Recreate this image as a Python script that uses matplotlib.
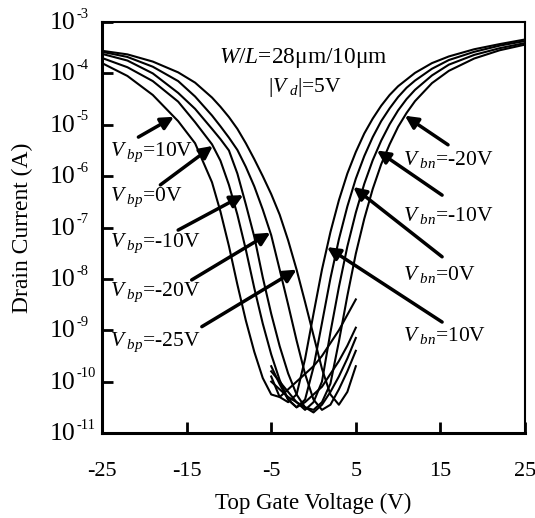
import numpy as np
import matplotlib
matplotlib.use("Agg")
import matplotlib.pyplot as plt

plt.rcParams['font.family'] = ['Liberation Serif', 'DejaVu Serif']
plt.rcParams['mathtext.fontset'] = 'custom'
plt.rcParams['mathtext.rm'] = 'Liberation Serif'
plt.rcParams['mathtext.it'] = 'Liberation Serif:italic'
plt.rcParams['mathtext.bf'] = 'Liberation Serif:bold'

# p-branch sweeps (gate -25 V -> 5 V), log10 of drain current
vg_p = [-25, -22, -19, -16, -14, -12, -11, -10, -9, -8, -7, -6, -5, -4, -3, -2, -1, 0, 1, 2, 3, 4, 5]
logid_bp_p10 = [-3.80, -4.05, -4.42, -4.93, -5.36, -6.12, -6.69, -7.36, -8.11, -8.81, -9.42, -9.93,
                -10.25, -10.30, -10.15, -10.00, -9.85, -9.70, -9.50, -9.25, -9.00, -8.70, -8.40]
logid_bp_0 = [-3.70, -3.88, -4.15, -4.55, -4.95, -5.38, -5.70, -6.17, -6.75, -7.43, -8.18, -8.87,
              -9.47, -9.97, -10.35, -10.50, -10.40, -10.25, -10.10, -9.85, -9.60, -9.30, -8.95]
logid_bp_m10 = [-3.62, -3.75, -4.00, -4.38, -4.69, -5.08, -5.28, -5.50, -5.95, -6.55, -7.18, -7.97,
                -8.68, -9.31, -9.84, -10.25, -10.50, -10.60, -10.45, -10.20, -9.90, -9.55, -9.15]
logid_bp_m20 = [-3.58, -3.68, -3.87, -4.15, -4.45, -4.82, -5.03, -5.25, -5.49, -5.82, -6.20, -6.65,
                -7.15, -7.82, -8.50, -9.20, -9.85, -10.35, -10.55, -10.45, -10.15, -9.80, -9.40]
logid_bp_m25 = [-3.56, -3.63, -3.77, -3.98, -4.18, -4.47, -4.65, -4.85, -5.08, -5.36, -5.67, -6.00,
                -6.35, -6.75, -7.25, -7.82, -8.45, -9.10, -9.75, -10.25, -10.45, -10.20, -9.70]

# n-branch sweeps (gate -5 V -> 25 V)
vg_n = [-5, -4, -3, -2, -1, 0, 1, 2, 3, 4, 5, 6, 7, 8, 9, 10, 11, 12, 14, 16, 19, 22, 25]
logid_bn_p10 = [-9.90, -10.30, -10.40, -10.25, -9.56, -8.68, -7.82, -7.09, -6.47, -5.95, -5.53, -5.17,
                -4.88, -4.63, -4.42, -4.25, -4.12, -3.99, -3.80, -3.67, -3.53, -3.43, -3.34]
logid_bn_0 = [-9.70, -10.05, -10.35, -10.50, -10.35, -9.72, -8.86, -7.99, -7.23, -6.59, -6.05, -5.61,
              -5.24, -4.93, -4.68, -4.46, -4.28, -4.14, -3.91, -3.74, -3.58, -3.46, -3.37]
logid_bn_m10 = [-9.80, -10.00, -10.20, -10.40, -10.55, -10.40, -10.00, -9.04, -8.16, -7.37, -6.71, -6.15,
                -5.69, -5.31, -4.99, -4.72, -4.50, -4.32, -4.04, -3.83, -3.64, -3.51, -3.41]
logid_bn_m20 = [-10.00, -10.15, -10.30, -10.40, -10.50, -10.55, -10.40, -10.04, -9.22, -8.33, -7.51, -6.83,
                -6.25, -5.77, -5.38, -5.04, -4.77, -4.54, -4.19, -3.95, -3.71, -3.55, -3.44]

x_ticks = [-25, -15, -5, 5, 15, 25]
y_exponents = [-11, -10, -9, -8, -7, -6, -5, -4, -3]

p_curves = [("10V", logid_bp_p10), ("0V", logid_bp_0), ("-10V", logid_bp_m10),
            ("-20V", logid_bp_m20), ("-25V", logid_bp_m25)]
n_curves = [("-20V", logid_bn_m20), ("-10V", logid_bn_m10), ("0V", logid_bn_0), ("10V", logid_bn_p10)]

# gate voltage where each arrow touches its curve
p_arrow_v = [-16.5, -11.9, -8.3, -5.1, -2.0]
n_arrow_v = [10.8, 7.5, 4.7, 1.6]

fig = plt.figure(figsize=(5.35, 5.18), dpi=100)
ax = fig.add_axes([0.1907, 0.1641, 0.7906, 0.7934])

for _, ld in p_curves:
    ax.plot(vg_p, 10.0 ** np.array(ld), color='black', lw=1.5, solid_joinstyle='round')
for _, ld in n_curves:
    ax.plot(vg_n, 10.0 ** np.array(ld), color='black', lw=1.5, solid_joinstyle='round')

ax.set_yscale('log')
ax.set_xlim(-25, 25)
ax.set_ylim(1e-11, 1e-3)
ax.set_xticks(x_ticks)
ax.set_xticklabels([str(t) for t in x_ticks])
ax.set_yticks([10.0 ** e for e in y_exponents])
ax.minorticks_off()
ax.tick_params(axis='both', direction='in', length=8, width=2)
ax.tick_params(axis='x', pad=21, labelsize=16)
ax.tick_params(axis='y', labelleft=False)
for side in ['left', 'bottom']:
    ax.spines[side].set_linewidth(2.2)
for side in ['right', 'top']:
    ax.spines[side].set_linewidth(1.5)

# decade labels: large "10" with a small exponent, left-aligned
for e in y_exponents:
    ax.annotate('10', xy=(0, 10.0 ** e), xycoords=('axes fraction', 'data'),
                xytext=(-37.4, -0.8), textcoords='offset points',
                ha='left', va='center', fontsize=18.5)
    ax.annotate('-%d' % abs(e), xy=(0, 10.0 ** e), xycoords=('axes fraction', 'data'),
                xytext=(-18.2, 5.6), textcoords='offset points',
                ha='left', va='center', fontsize=10.5)

ax.set_xlabel('Top Gate Voltage (V)', fontsize=16.5)
ax.set_ylabel('Drain Current (A)', fontsize=17)
ax.xaxis.set_label_coords(0.5, -0.146)
ax.yaxis.set_label_coords(-0.162, 0.5)

ax.text(-1.2, 10 ** -3.70, r'$W/L$=28μm/10μm', fontsize=16.8, ha='center', va='center')
ax.text(-1.0, 10 ** -4.28, r'|$V_{\ d}$|=5V', fontsize=15.5, ha='center', va='center')

arrow_kw = dict(arrowstyle='-|>', lw=2.5, color='black', mutation_scale=19, shrinkA=0, shrinkB=0)

p_label_y = [-5.53, -6.42, -7.30, -8.27, -9.23]
p_tail = [(-20.7, -5.24), (-18.1, -6.17), (-16.0, -7.05), (-14.4, -8.02), (-13.2, -8.93)]
for (lab, ld), vx, ly, (tx, ty) in zip(p_curves, p_arrow_v, p_label_y, p_tail):
    tip_y = np.interp(vx, vg_p, ld)
    ax.annotate('', xy=(vx, 10 ** tip_y), xytext=(tx, 10 ** ty), arrowprops=arrow_kw)
    ax.text(-24.1, 10 ** ly, r'$V_{\ bp}$=' + lab, fontsize=15.5, ha='left', va='center')

n_label_y = [-5.68, -6.77, -7.92, -9.11]
n_tail = [(15.9, -5.39), (15.2, -6.37), (15.2, -7.57), (15.2, -8.84)]
for (lab, ld), vx, ly, (tx, ty) in zip(n_curves, n_arrow_v, n_label_y, n_tail):
    tip_y = np.interp(vx, vg_n, ld)
    ax.annotate('', xy=(vx, 10 ** tip_y), xytext=(tx, 10 ** ty), arrowprops=arrow_kw)
    ax.text(10.6, 10 ** ly, r'$V_{\ bn}$=' + lab, fontsize=15.5, ha='left', va='center')

fig.savefig('out.png', dpi=100)
